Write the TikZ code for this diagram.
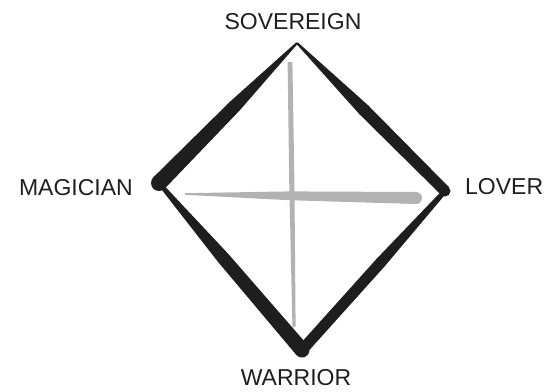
\documentclass[tikz,border=0pt]{standalone}
\usepackage{fontspec}
\setmainfont{Liberation Sans}
\usepackage{tikz}
\usetikzlibrary{positioning,calc}
\definecolor{ink}{HTML}{1E1E1E}
\definecolor{pale}{HTML}{B2B2B2}
\tikzset{
  corner/.style={font=\fontsize{23}{23}\selectfont, inner sep=0pt, text=ink},
  inkstroke/.style={fill=ink},
  palestroke/.style={fill=pale},
}
% brush line from #2 to #3, half widths #4 (start), #5 (middle), #6 (end)
\newcommand{\taper}[6][inkstroke]{%
  \coordinate (brushmid) at ($(#2)!0.45!(#3)$);
  \fill[#1] ($(#2)!#4!90:(#3)$) -- ($(brushmid)!#5!90:(#3)$)
    -- ($(#3)!#6!-90:(#2)$) -- ($(#3)!#6!90:(#2)$)
    -- ($(brushmid)!#5!-90:(#3)$) -- ($(#2)!#4!-90:(#3)$) -- cycle;
  \fill[#1] (#3) circle[radius=#6];}

\begin{document}
\begin{tikzpicture}[x=1pt,y=-1pt]
  \useasboundingbox (0,0) rectangle (548,391);

  \coordinate (sov) at (297,43);
  \coordinate (mag) at (159,183);
  \coordinate (lov) at (445,191);
  \coordinate (war) at (302,350);

  \node[corner, above=13pt of sov, xshift=-4pt] (sovlabel) {SOVEREIGN};
  \node[corner, left=26pt of mag, yshift=-5pt] (maglabel) {MAGICIAN};
  \node[corner, right=20pt of lov, yshift=4pt] (lovlabel) {LOVER};
  \node[corner, below=19pt of war, xshift=-6pt] (warlabel) {WARRIOR};

  % the grey cross
  \coordinate (vtop) at (290,62);
  \coordinate (vbot) at (294,326);
  \coordinate (hleft) at (185,194);
  \coordinate (hright) at (416,198);
  \taper[palestroke]{vtop}{vbot}{2.4pt}{2.6pt}{1.6pt}
  \taper[palestroke]{hleft}{hright}{0.8pt}{4.4pt}{6pt}

  % the diamond
  \taper{sov}{mag}{1pt}{6.5pt}{8pt}
  \taper{sov}{lov}{1pt}{6.2pt}{5.5pt}
  \taper{mag}{war}{2pt}{6.5pt}{7.5pt}
  \taper{lov}{war}{2.4pt}{5.5pt}{5.5pt}

\end{tikzpicture}
\end{document}
